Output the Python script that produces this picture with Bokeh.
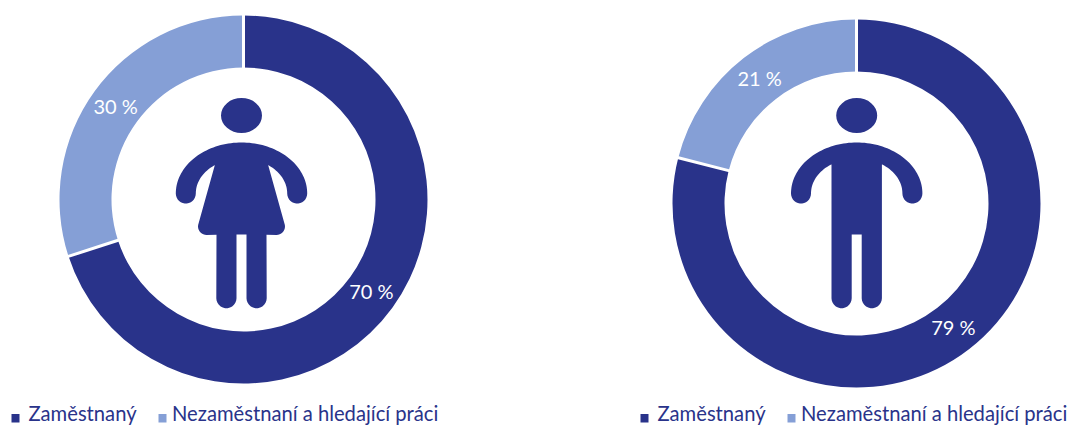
import numpy as np
from bokeh.plotting import figure
from bokeh.models import Range1d
from bokeh.core.properties import value
from bokeh.embed import file_html
from bokeh.resources import INLINE

W, H = 1069, 425
categories = ["Zaměstnaný", "Nezaměstnaní a hledající práci"]
women = [70, 30]
men = [79, 21]
DARK, LIGHT = "#29338a", "#859fd6"
FONT = "Lato"

p = figure(width=W, height=H, x_range=Range1d(0, W), y_range=Range1d(0, H),
           toolbar_location=None, output_backend="svg", min_border=0,
           outline_line_color=None, background_fill_color="white",
           border_fill_color="white", margin=(0, 0, 0, 0))
p.axis.visible = False
p.grid.visible = False


def Y(y):
    return H - y


def donut(cx, cy, vals, r0=132, r1=184):
    fr = np.cumsum([0] + vals) / sum(vals)
    # clockwise from 12 o'clock
    starts = np.pi / 2 - 2 * np.pi * fr[:-1]
    ends = np.pi / 2 - 2 * np.pi * fr[1:]
    p.annular_wedge(x=cx, y=Y(cy), inner_radius=r0, outer_radius=r1,
                    start_angle=ends, end_angle=starts,
                    color=[DARK, LIGHT], line_color=None)
    p.segment(x0=cx + (r0 - 1) * np.cos(starts), y0=Y(cy) + (r0 - 1) * np.sin(starts),
              x1=cx + (r1 + 1) * np.cos(starts), y1=Y(cy) + (r1 + 1) * np.sin(starts),
              line_color="white", line_width=3)
    mids = (starts + ends) / 2
    rm = (r0 + r1) / 2
    p.text(x=cx + rm * np.cos(mids), y=Y(cy) + 1 + rm * np.sin(mids),
           text=[f"{v} %" for v in vals], text_color="white", text_font=value(FONT),
           text_font_size="20px", text_align="center", text_baseline="middle")


def arc(cx, cy, rx, ry, a0, a1, n=40):
    t = np.radians(np.linspace(a0, a1, n))
    return cx + rx * np.cos(t), cy - ry * np.sin(t)


def figure_icon(c, skirt):
    """Pictogram, drawn in page pixels around centre x c."""
    xs, ys = [], []

    def add(a):
        xs.extend(a[0])
        ys.extend(a[1])

    # right half, from the top of the shoulders down, then mirrored
    rx, ry, sy = 65.7, 51.0, 193.0
    add(arc(c, sy, rx, ry, 90, 0))                       # outer arm
    add(arc(c + 55.7, sy, 10, 10, 0, -180, 16))          # arm end
    add(arc(c, sy, 45.7, 35, 0, 56, 20))                 # inner arm
    if skirt:
        xs.append(c + 26.5); ys.append(164)
        add(arc(c + 35, 226, 8.5, 8.5, 10, -90, 10))
        xs.append(c + 25); ys.append(234.3)
    else:
        xs.append(c + 25.2); ys.append(164)
    xs.append(c + 25.2); ys.append(298)
    add(arc(c + 15.1, 297.7, 10.1, 10, 0, -180, 14))
    xs.append(c + 5); ys.append(234)
    # mirror
    mx = [2 * c - v for v in xs[::-1]]
    my = ys[::-1]
    xs = xs + mx
    ys = ys + my
    p.patch(x=xs, y=[Y(v) for v in ys], fill_color=DARK, line_color=None)
    p.ellipse(x=c, y=Y(115), width=41, height=35, fill_color=DARK, line_color=None)


def legend(x_sq1, x_t1, x_sq2, x_t2):
    mid = 412.5
    for xs_, xt, col, name in ((x_sq1, x_t1, DARK, categories[0]), (x_sq2, x_t2, LIGHT, categories[1])):
        p.quad(left=xs_, right=xs_ + 8, top=Y(413.5), bottom=Y(422), fill_color=col, line_color=None)
        p.text(x=[xt], y=[Y(mid)], text=[name], text_color=DARK, text_font=value(FONT),
               text_font_size="20.2px", text_align="left", text_baseline="middle")


donut(243, 199, women)
donut(856, 203, men)
figure_icon(241, True)
figure_icon(856.2, False)
legend(11, 28, 158, 171.5)
legend(640, 657, 787, 800.5)

open("out.html", "w").write(file_html(p, INLINE))
